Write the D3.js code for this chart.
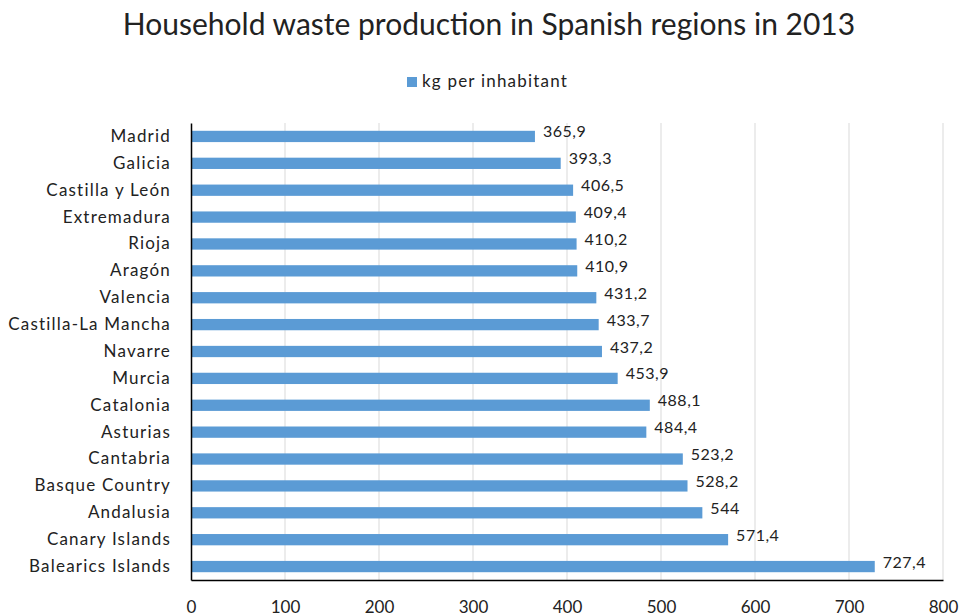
<!DOCTYPE html>
<html>
<head>
<meta charset="utf-8">
<script src="https://cdn.jsdelivr.net/npm/d3@7"></script>
<style>
  body { margin: 0; background: #fff; }
  text { font-family: Lato, "Open Sans", sans-serif; fill: #222; }
</style>
</head>
<body>
<div id="chart"></div>
<script>
// Chart data
const regions = ["Madrid", "Galicia", "Castilla y León", "Extremadura", "Rioja", "Aragón",
  "Valencia", "Castilla-La Mancha", "Navarre", "Murcia", "Catalonia", "Asturias",
  "Cantabria", "Basque Country", "Andalusia", "Canary Islands", "Balearics Islands"];
const kgPerInhabitant = [365.9, 393.3, 406.5, 409.4, 410.2, 410.9, 431.2, 433.7, 437.2,
  453.9, 488.1, 484.4, 523.2, 528.2, 544, 571.4, 727.4];
const xTicks = [0, 100, 200, 300, 400, 500, 600, 700, 800];

const svgWidth = 961;
const svgHeight = 616;
const margin = { top: 123, right: 18, bottom: 36, left: 191 };
const width = svgWidth - margin.left - margin.right;
const height = svgHeight - margin.top - margin.bottom;
const barColor = "#5b9bd5";

const data = regions.map((r, i) => ({ region: r, value: kgPerInhabitant[i] }));

const svg = d3.select("#chart")
  .append("svg")
  .attr("width", svgWidth)
  .attr("height", svgHeight);

// title
svg.append("text")
  .attr("x", 489)
  .attr("y", 35)
  .attr("text-anchor", "middle")
  .style("font-size", "30px")
  .text("Household waste production in Spanish regions in 2013");

// legend
svg.append("rect")
  .attr("x", 407)
  .attr("y", 77)
  .attr("width", 10)
  .attr("height", 10)
  .attr("fill", barColor);
svg.append("text")
  .attr("x", 422)
  .attr("y", 87)
  .style("font-size", "17px")
  .style("letter-spacing", "1.2px")
  .text("kg per inhabitant");

const chartGroup = svg.append("g")
  .attr("transform", `translate(${margin.left}, ${margin.top})`);

const xScale = d3.scaleLinear().domain([0, 800]).range([0, width]);
const yScale = d3.scaleBand().domain(regions).range([0, height]).paddingInner(0.58).paddingOuter(0.29);

// gridlines
chartGroup.selectAll(".grid")
  .data(xTicks.slice(1))
  .enter()
  .append("line")
  .attr("x1", d => xScale(d))
  .attr("x2", d => xScale(d))
  .attr("y1", 0)
  .attr("y2", height)
  .attr("stroke", "#d9d9d9")
  .attr("stroke-width", 1);

// bars
chartGroup.selectAll(".bar")
  .data(data)
  .enter()
  .append("rect")
  .attr("x", 0)
  .attr("y", d => yScale(d.region))
  .attr("width", d => xScale(d.value))
  .attr("height", yScale.bandwidth())
  .attr("fill", barColor);

// value labels
chartGroup.selectAll(".val")
  .data(data)
  .enter()
  .append("text")
  .attr("x", d => xScale(d.value) + 8)
  .attr("y", d => yScale(d.region) + yScale.bandwidth() / 2 + 1)
  .style("font-size", "16px")
  .style("letter-spacing", "0.5px")
  .text(d => String(d.value).replace(".", ","));

// x axis
const bottomAxis = d3.axisBottom(xScale).tickValues(xTicks).tickSize(0).tickPadding(21);
const xAxis = chartGroup.append("g")
  .attr("transform", `translate(0, ${height})`)
  .call(bottomAxis);
xAxis.select(".domain").attr("stroke", "#000").attr("stroke-width", 1.5);
xAxis.selectAll("text").style("font-size", "17px").style("font-family", "Lato, sans-serif").style("fill", "#222");

// y axis
const leftAxis = d3.axisLeft(yScale).tickSize(0).tickPadding(20);
const yAxis = chartGroup.append("g").call(leftAxis);
yAxis.select(".domain").attr("stroke", "#000").attr("stroke-width", 1.5);
yAxis.selectAll("text").style("font-size", "17px").style("letter-spacing", "1.2px")
  .style("font-family", "Lato, sans-serif").style("fill", "#222");
</script>
</body>
</html>
